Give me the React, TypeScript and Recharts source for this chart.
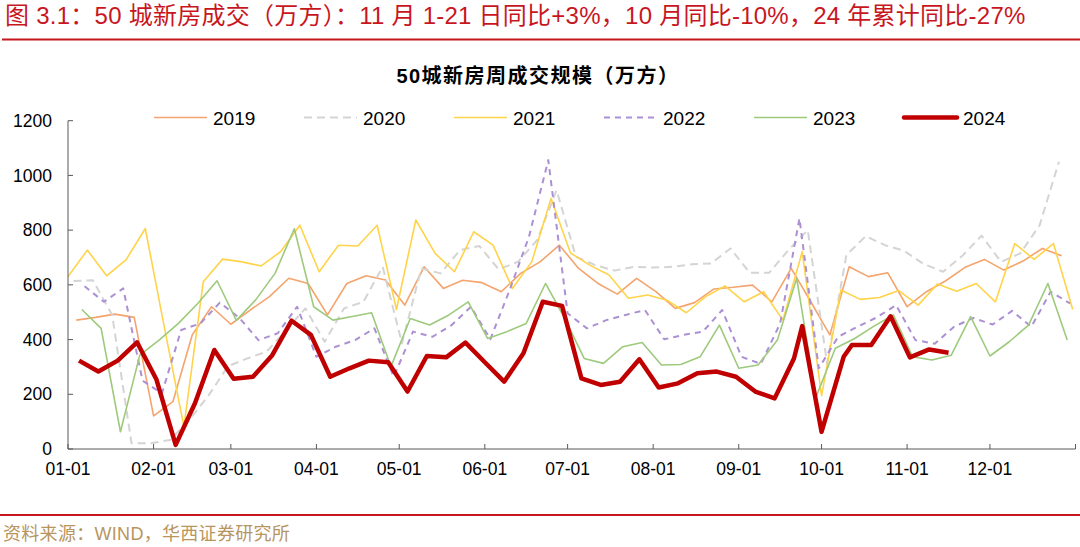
import React from 'react';
import { LineChart, Line, XAxis, YAxis } from 'recharts';

const FONT = "'Liberation Sans', Arial, 'Noto Sans CJK SC', sans-serif";

// x axis: day of year (0 = 01-01)
const monthTicks = [0, 31, 59, 90, 120, 151, 181, 212, 243, 273, 304, 334, 365];
const monthLabels = ['01-01', '02-01', '03-01', '04-01', '05-01', '06-01', '07-01', '08-01', '09-01', '10-01', '11-01', '12-01', ''];
const yTicks = [0, 200, 400, 600, 800, 1000, 1200];

// week-ending days (day of year)
const days2019 = [3, 10, 17, 24, 31, 38, 45, 52, 59, 66, 73, 80, 87, 94, 101, 108, 115, 122, 129, 136, 143, 150, 157, 164, 171, 178, 185, 192, 199, 206, 213, 220, 227, 234, 241, 248, 255, 262, 269, 276, 283, 290, 297, 304, 311, 318, 325, 332, 339, 346, 353, 360];
const days2020 = [2, 9, 16, 23, 30, 37, 44, 51, 58, 65, 72, 79, 86, 93, 100, 107, 114, 121, 128, 135, 142, 149, 156, 163, 170, 177, 184, 191, 198, 205, 212, 219, 226, 233, 240, 247, 254, 261, 268, 275, 282, 289, 296, 303, 310, 317, 324, 331, 338, 345, 352, 359];
const days2021 = [0, 7, 14, 21, 28, 35, 42, 49, 56, 63, 70, 77, 84, 91, 98, 105, 112, 119, 126, 133, 140, 147, 154, 161, 168, 175, 182, 189, 196, 203, 210, 217, 224, 231, 238, 245, 252, 259, 266, 273, 280, 287, 294, 301, 308, 315, 322, 329, 336, 343, 350, 357, 364];
const days2022 = [6, 13, 20, 27, 34, 41, 48, 55, 62, 69, 76, 83, 90, 97, 104, 111, 118, 125, 132, 139, 146, 153, 160, 167, 174, 181, 188, 195, 202, 209, 216, 223, 230, 237, 244, 251, 258, 265, 272, 279, 286, 293, 300, 307, 314, 321, 328, 335, 342, 349, 356, 363];
const days2023 = [5, 12, 19, 26, 33, 40, 47, 54, 61, 68, 75, 82, 89, 96, 103, 110, 117, 124, 131, 138, 145, 152, 159, 166, 173, 180, 187, 194, 201, 208, 215, 222, 229, 236, 243, 250, 257, 264, 271, 278, 285, 292, 299, 306, 313, 320, 327, 334, 341, 348, 355, 362];
const days2024 = [4, 11, 18, 25, 32, 39, 46, 53, 60, 67, 74, 81, 88, 95, 102, 109, 116, 123, 130, 137, 144, 151, 158, 165, 172, 179, 186, 193, 200, 207, 214, 221, 228, 235, 242, 249, 256, 263, 266, 273, 281, 284, 291, 298, 305, 312, 319];

// weekly transaction area (10k m2)
const v2019 = [471, 481, 493, 481, 121, 173, 417, 520, 456, 508, 557, 624, 605, 490, 605, 633, 618, 526, 666, 587, 617, 608, 575, 642, 684, 745, 660, 605, 566, 624, 575, 514, 535, 585, 591, 599, 538, 660, 540, 417, 666, 630, 644, 520, 575, 615, 664, 693, 654, 687, 733, 706];
const v2020 = [614, 617, 490, 21, 21, 33, 106, 197, 303, 331, 356, 435, 514, 392, 514, 538, 666, 386, 660, 642, 727, 742, 657, 684, 764, 946, 703, 672, 652, 666, 663, 666, 675, 678, 733, 644, 644, 727, 800, 313, 709, 778, 745, 724, 676, 648, 706, 780, 684, 715, 818, 1050];
const v2021 = [630, 727, 633, 691, 806, 440, 82, 611, 694, 684, 669, 721, 818, 648, 745, 742, 818, 510, 837, 715, 648, 794, 745, 587, 684, 916, 717, 672, 636, 551, 563, 544, 498, 557, 596, 538, 575, 471, 721, 195, 581, 547, 554, 579, 526, 603, 577, 605, 538, 751, 693, 751, 510];
const v2022 = [595, 538, 587, 250, 203, 435, 459, 535, 480, 398, 423, 520, 337, 374, 398, 441, 264, 429, 410, 453, 520, 401, 581, 776, 1056, 496, 441, 471, 490, 508, 401, 417, 429, 508, 337, 311, 459, 843, 295, 410, 447, 481, 526, 398, 385, 447, 479, 455, 505, 447, 575, 532];
const v2023 = [510, 441, 63, 343, 398, 459, 532, 615, 470, 545, 642, 805, 520, 471, 484, 498, 301, 477, 453, 490, 538, 404, 429, 459, 605, 477, 331, 313, 374, 389, 307, 309, 337, 453, 295, 307, 398, 624, 190, 368, 404, 449, 490, 337, 325, 343, 484, 340, 392, 453, 605, 398];
const v2024 = [323, 283, 323, 390, 255, 15, 167, 362, 257, 264, 343, 469, 417, 264, 295, 323, 317, 210, 340, 335, 389, 317, 246, 350, 538, 523, 258, 234, 246, 328, 225, 240, 277, 283, 264, 210, 185, 331, 449, 63, 337, 380, 380, 485, 335, 364, 352];

const seriesNames = ['2019', '2020', '2021', '2022', '2023', '2024'];

type Style = { color: string; width: number; dash?: string };
const styles: Style[] = [
  { color: '#F4A46C', width: 1.6 },
  { color: '#D4D4D4', width: 2, dash: '8 5' },
  { color: '#FFD34A', width: 1.6 },
  { color: '#AC90D4', width: 2, dash: '6 5' },
  { color: '#9DCA7C', width: 1.6 },
  { color: '#C00000', width: 4.5 },
];

const zip = (d: number[], v: number[]) => d.map((x, i) => ({ d: x, v: v[i] }));
const seriesData = [
  zip(days2019, v2019),
  zip(days2020, v2020),
  zip(days2021, v2021),
  zip(days2022, v2022),
  zip(days2023, v2023),
  zip(days2024, v2024),
];

const TITLE = '图 3.1：50 城新房成交（万方）：11 月 1-21 日同比+3%，10 月同比-10%，24 年累计同比-27%';
const CHART_TITLE = '50城新房周成交规模（万方）';
const SOURCE = '资料来源：WIND，华西证券研究所';

export default function App() {
  return (
    <div style={{ position: 'absolute', left: 0, top: 0, width: 1080, height: 547, background: '#fff', fontFamily: FONT }}>
      <svg width={1080} height={547} style={{ position: 'absolute', left: 0, top: 0 }}>
        <text x={5} y={24} fontSize={24} fill="#C8161E" letterSpacing={0.25} fontFamily={FONT}>{TITLE}</text>
        <line x1={2} x2={1080} y1={39.5} y2={39.5} stroke="#C8161E" strokeWidth={2} />
        <text x={538} y={83} fontSize={20} fontWeight="bold" fill="#000" textAnchor="middle" letterSpacing={1.5} fontFamily={FONT}>{CHART_TITLE}</text>
        {seriesNames.map((n, i) => {
          const x0 = 154 + i * 150;
          const s = styles[i];
          return (
            <g key={n}>
              <line x1={x0} x2={x0 + 53} y1={117.5} y2={117.5} stroke={s.color} strokeWidth={s.width} strokeDasharray={s.dash} strokeLinecap={i === 5 ? 'round' : 'butt'} />
              <text x={x0 + 59} y={124.5} fontSize={19} fill="#000" fontFamily={FONT}>{n}</text>
            </g>
          );
        })}
        <line x1={0} x2={1080} y1={515} y2={515} stroke="#C8161E" strokeWidth={2} />
        <text x={3} y={540} fontSize={18} fill="#B8955E" letterSpacing={0.3} fontFamily={FONT}>{SOURCE}</text>
      </svg>
      <div style={{ position: 'absolute', left: 0, top: 0 }}>
        <LineChart width={1080} height={547} margin={{ top: 120.7, right: 4.5, bottom: 68, left: 0 }}>
          <XAxis
            dataKey="d"
            type="number"
            domain={[0, 365]}
            ticks={monthTicks}
            interval={0}
            allowDataOverflow
            tickFormatter={(v: number) => monthLabels[monthTicks.indexOf(v)] ?? ''}
            height={30}
            tickSize={-5}
            tickMargin={19}
            stroke="#595959"
            tick={{ fill: '#000', fontSize: 17.5, fontFamily: FONT }}
          />
          <YAxis
            type="number"
            domain={[0, 1200]}
            ticks={yTicks}
            interval={0}
            width={68}
            tickSize={-5}
            tickMargin={21}
            stroke="#595959"
            tick={{ fill: '#000', fontSize: 17.5, fontFamily: FONT }}
          />
          {seriesNames.map((n, i) => (
            <Line
              key={n}
              name={n}
              data={seriesData[i]}
              dataKey="v"
              type="linear"
              stroke={styles[i].color}
              strokeWidth={styles[i].width}
              strokeDasharray={styles[i].dash}
              strokeLinejoin="round"
              dot={false}
              activeDot={false}
              isAnimationActive={false}
            />
          ))}
        </LineChart>
      </div>
    </div>
  );
}
